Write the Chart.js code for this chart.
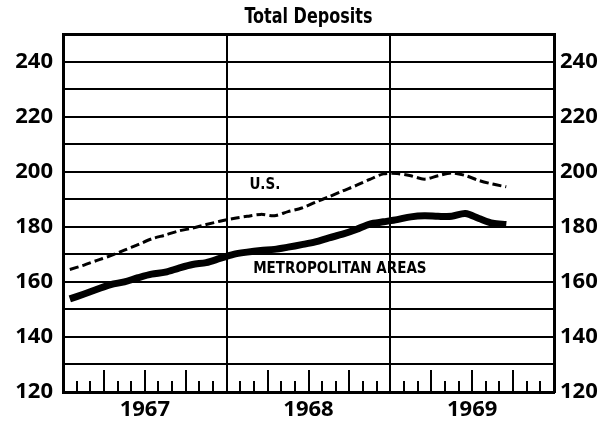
<!DOCTYPE html>
<html>
<head>
<meta charset="utf-8">
<script src="https://cdn.jsdelivr.net/npm/chart.js@4.4.1/dist/chart.umd.min.js"></script>
<style>
  html, body { margin: 0; padding: 0; background: #fff; }
  #wrap { width: 599px; height: 430px; }
</style>
</head>
<body>
<div id="wrap"><canvas id="grafico"></canvas></div>
<script>
// monthly values, Jan 1967 .. Sep 1969
const titulo = 'Total Deposits';
const years = ['1967', '1968', '1969'];
const usDeposits = [
  164.5, 166, 167.8, 169.5, 171.5, 173.5, 175.6, 177, 178.5, 179.5, 180.8, 182,
  183, 183.8, 184.5, 184, 185.5, 186.8, 188.9, 190.9, 193, 195, 197.2, 199.2,
  199.3, 198.5, 197.3, 198.5, 199.5, 198.6, 196.8, 195.5, 194.5
];
const metroDeposits = [
  153.8, 155.5, 157.3, 159, 160, 161.5, 162.8, 163.5, 165, 166.3, 167, 168.5,
  170, 170.8, 171.4, 171.8, 172.6, 173.5, 174.5, 176, 177.3, 179, 181, 181.8,
  182.6, 183.6, 184, 183.8, 183.8, 184.8, 183, 181.3, 180.8
];
const yLabels = [120, 140, 160, 180, 200, 220, 240];
const labelUS = 'U.S.';
const labelMetro = 'METROPOLITAN AREAS';

function puntos(serie) {
  return serie.map((v, i) => ({ x: i + 0.5, y: v }));
}

const numFont = { family: 'Open Sans', weight: 'bold', size: 22 };

// month tick marks, in-plot labels and the narrow title
const marcas = {
  id: 'marcas',
  afterDatasetsDraw(chart) {
    const ctx = chart.ctx;
    const x = chart.scales.x;
    const y = chart.scales.y;
    const area = chart.chartArea;
    ctx.save();
    ctx.strokeStyle = '#000';
    ctx.lineWidth = 2;
    for (let m = 1; m < 36; m++) {
      if (m % 12 === 0) continue;
      const px = Math.round(x.getPixelForValue(m));
      const len = m % 3 === 0 ? 22 : 11;
      ctx.beginPath();
      ctx.moveTo(px, area.bottom);
      ctx.lineTo(px, area.bottom - len);
      ctx.stroke();
    }
    ctx.fillStyle = '#000';
    ctx.textAlign = 'center';
    ctx.textBaseline = 'middle';
    ctx.font = 'bold 15px "DejaVu Sans Condensed", "DejaVu Sans"';
    ctx.fillText(labelUS, x.getPixelForValue(14.8), y.getPixelForValue(195.1));
    ctx.fillText(labelMetro, x.getPixelForValue(20.3), y.getPixelForValue(164.7));

    // title: tall and condensed
    ctx.font = 'bold 22px "DejaVu Sans Condensed", "DejaVu Sans"';
    const w = ctx.measureText(titulo).width;
    const sx = 128 / w;
    ctx.translate((area.left + area.right) / 2, 17);
    ctx.scale(sx, 1);
    ctx.fillText(titulo, 0, 0);
    ctx.restore();
  }
};

const canvas = document.getElementById('grafico');
new Chart(canvas.getContext('2d'), {
  type: 'line',
  data: {
    datasets: [
      {
        label: labelUS,
        data: puntos(usDeposits),
        borderColor: '#000',
        borderWidth: 3,
        borderDash: [9, 4],
        pointRadius: 0,
        tension: 0.3,
        fill: false
      },
      {
        label: labelMetro,
        data: puntos(metroDeposits),
        borderColor: '#000',
        borderWidth: 7,
        pointRadius: 0,
        tension: 0.3,
        fill: false
      }
    ]
  },
  options: {
    responsive: true,
    maintainAspectRatio: false,
    animation: false,
    layout: { padding: { top: 34 } },
    plugins: {
      legend: { display: false },
      tooltip: { enabled: false },
      title: { display: false }
    },
    scales: {
      x: {
        type: 'linear',
        min: 0,
        max: 36,
        afterFit(scale) { scale.height = 38; },
        ticks: {
          stepSize: 6,
          autoSkip: false,
          maxRotation: 0,
          padding: 5,
          color: '#000',
          font: numFont,
          callback: v => (v % 12 === 6 ? years[(v - 6) / 12] : '')
        },
        grid: {
          drawTicks: false,
          lineWidth: 2,
          color: c => (c.tick && c.tick.value % 12 === 0 ? '#000' : 'rgba(0,0,0,0)')
        },
        border: { display: true, color: '#000', width: 3 }
      },
      y: {
        min: 120,
        max: 250,
        position: 'left',
        afterFit(scale) { scale.width = 63; },
        ticks: {
          stepSize: 10,
          autoSkip: false,
          padding: 10,
          color: '#000',
          font: numFont,
          callback: v => (yLabels.includes(v) ? v : '')
        },
        grid: { drawTicks: false, lineWidth: c => (c.tick && c.tick.value === 250 ? 3 : 2), color: '#000' },
        border: { display: true, color: '#000', width: 3 }
      },
      y2: {
        min: 120,
        max: 250,
        position: 'right',
        afterFit(scale) { scale.width = 45; },
        ticks: {
          stepSize: 10,
          autoSkip: false,
          padding: 6,
          color: '#000',
          font: numFont,
          callback: v => (yLabels.includes(v) ? v : '')
        },
        grid: { display: false, drawTicks: false },
        border: { display: true, color: '#000', width: 3 }
      }
    }
  },
  plugins: [marcas]
});
</script>
</body>
</html>
